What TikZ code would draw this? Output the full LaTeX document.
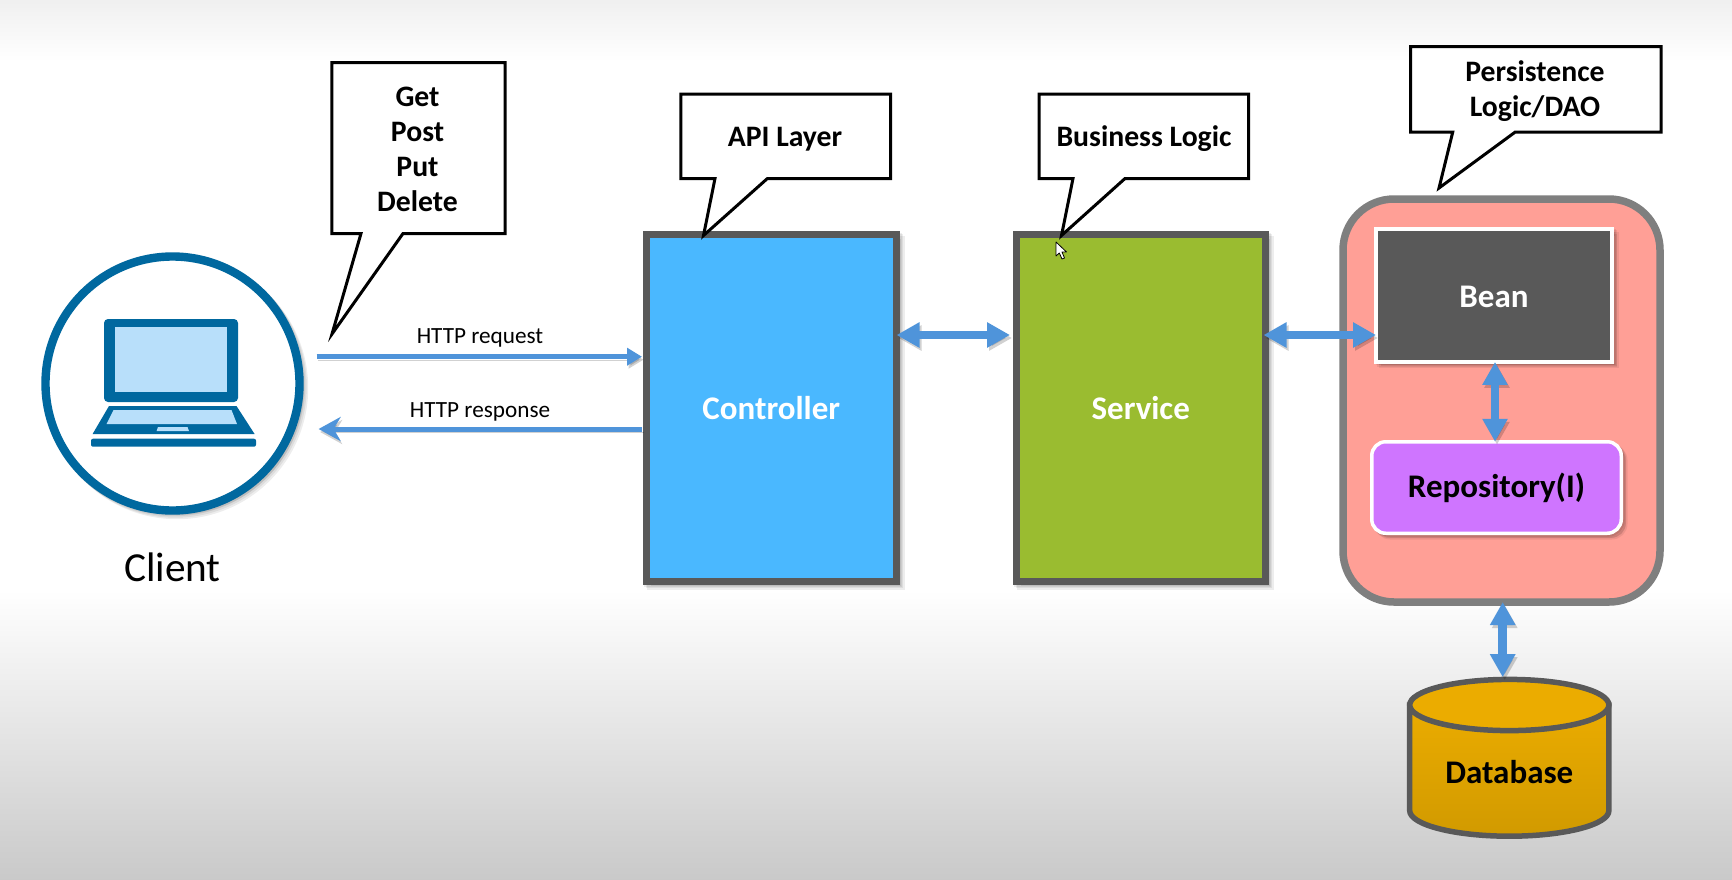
\documentclass[tikz,border=0pt]{standalone}
\usepackage{fontspec}
\setmainfont{Carlito}
\usetikzlibrary{arrows.meta,shadows}
\definecolor{arrowblue}{HTML}{4F94DA}
\definecolor{boxgrey}{HTML}{595959}
\definecolor{contgrey}{HTML}{7F7F7F}
\definecolor{ctrlblue}{HTML}{4AB8FF}
\definecolor{svcgreen}{HTML}{9ABC30}
\definecolor{pinkfill}{HTML}{FF9F96}
\definecolor{purplefill}{HTML}{CF75FF}
\definecolor{lapdark}{HTML}{00689F}
\definecolor{laplight}{HTML}{B8DFFA}
\tikzset{
  softshadow/.style={
    general shadow={draw=black,fill=black,opacity=.07,shadow xshift=1.5pt,shadow yshift=-1.5pt},
    general shadow={draw=black,fill=black,opacity=.07,shadow xshift=3pt,shadow yshift=-3pt},
    general shadow={draw=black,fill=black,opacity=.07,shadow xshift=4.5pt,shadow yshift=-4.5pt}},
  boxfont/.style={font=\fontsize{33}{40}\selectfont\bfseries},
  tierbox/.style={rectangle,draw=boxgrey,line width=7pt,outer sep=0pt,softshadow,text=white,boxfont},
  callout/.style={draw=black,line width=3pt,fill=white,line join=miter,miter limit=10},
  callouttext/.style={align=center,text=black,inner sep=0pt,outer sep=0pt,
    font=\fontsize{29.7}{35.2}\selectfont\bfseries},
  thinarrow/.style={draw=arrowblue,line width=5pt,
    preaction={draw=black,opacity=.18,transform canvas={shift={(1.5pt,-3pt)}}}},
  dblarrow/.style={draw=arrowblue,line width=8.5pt,
    {Triangle[length=23pt,width=24pt]}-{Triangle[length=23pt,width=24pt]},
    preaction={draw=black,opacity=.18,transform canvas={shift={(2pt,-3pt)}}}},
  httplabel/.style={text=black,inner sep=0pt,outer sep=0pt,font=\fontsize{23.2}{28}\selectfont},
}
\begin{document}
\begin{tikzpicture}[x=1pt,y=-1pt]
\useasboundingbox (0,0) rectangle (1732,879);
% background
\fill[white] (0,0) rectangle (1732,879);
\shade[top color=black!6,bottom color=white] (0,0) rectangle (1732,62);
\shade[top color=white,bottom color=black!21] (0,590) rectangle (1732,879);

% client
\node[circle,draw=lapdark,fill=white,line width=8.4pt,minimum size=254pt,outer sep=0pt,inner sep=0pt,softshadow] (client) at (172.5,383.5) {};
\fill[lapdark,rounded corners=4pt] (104,319) rectangle (238,402);
\fill[laplight] (114.5,327) rectangle (227,392);
\fill[lapdark] (109,406) -- (236.5,406) -- (254.6,434) -- (92.6,434) -- cycle;
\fill[laplight] (113.6,410) -- (231.5,410) -- (237,424) -- (106.5,424) -- cycle;
\fill[laplight] (158,427) -- (187.5,427) -- (189,431) -- (156.6,431) -- cycle;
\fill[lapdark,rounded corners=2pt] (91,438.7) rectangle (256,446.7);
\node[text=black,inner sep=0pt,font=\fontsize{41.3}{48}\selectfont] (clientlabel) at (172.5,567) {Client};

% tiers
\node[tierbox,fill=ctrlblue,minimum width=250.5pt,minimum height=347pt] (ctrl) at (771.25,408) {Controller};
\node[tierbox,fill=svcgreen,minimum width=249.5pt,minimum height=347pt] (svc) at (1140.75,408) {Service};

% persistence container
\node[rectangle,draw=contgrey,fill=pinkfill,line width=7.5pt,rounded corners=51pt,minimum width=317pt,minimum height=403pt,outer sep=0pt] (persist) at (1501.5,400.5) {};
\node[rectangle,draw=white,fill=boxgrey,line width=4pt,minimum width=236pt,minimum height=132.7pt,outer sep=0pt,softshadow,text=white,boxfont,text height=24pt,text depth=0pt] (bean) at (1494,295.6) {Bean};
\node[rectangle,draw=white,fill=purplefill,line width=3.5pt,rounded corners=14pt,minimum width=249.5pt,minimum height=91.5pt,outer sep=0pt,softshadow,text=black,boxfont] (repo) at (1496.5,487.5) {Repository(I)};

% database
\draw[boxgrey,line width=5.5pt,shade,top color={rgb,255:red,235;green,172;blue,0},bottom color={rgb,255:red,209;green,154;blue,0}]
  (1409.7,705) -- (1409.7,810.6) .. controls (1409.7,824.7) and (1454.3,836.2) .. (1509.3,836.2)
  .. controls (1564.3,836.2) and (1608.9,824.7) .. (1608.9,810.6) -- (1608.9,705) -- cycle;
\draw[boxgrey,line width=5.5pt,fill={rgb,255:red,235;green,172;blue,0}] (1509.3,705) ellipse [x radius=99.6pt,y radius=25.6pt];
\node[rectangle,minimum width=199pt,minimum height=189pt,inner sep=0pt,outer sep=0pt,text=black,boxfont] (db) at (1509.3,771.7) {Database};

% connectors
\coordinate (reqstart) at (316.5,356.7);
\coordinate (respend) at (318.6,429);
\draw[thinarrow,-{Triangle[length=15pt,width=17pt]},shorten >=4pt] (reqstart) -- ([yshift=51.3pt]ctrl.west);
\draw[thinarrow,-{Stealth[length=22pt,width=24pt,inset=7pt]},shorten <=4pt] ([yshift=-21pt]ctrl.west) -- (respend);
\node[httplabel] (reqlabel) at (480,337.5) {HTTP request};
\node[httplabel] (resplabel) at (480,411.5) {HTTP response};
\draw[dblarrow,shorten >=6pt] ([yshift=73pt]ctrl.east) -- ([yshift=73pt]svc.west);
\draw[dblarrow,shorten <=-2pt] ([yshift=73pt]svc.east) -- ([yshift=-39.4pt]bean.west);
\draw[dblarrow] ([xshift=1pt]bean.south) -- ([xshift=1pt]bean.south |- repo.north);
\draw[dblarrow] ([xshift=1.2pt]persist.south) -- ([xshift=1.2pt]persist.south |- db.north);

% callouts
\draw[callout] (331.9,62.5) -- (505.2,62.5) -- (505.2,233.5) -- (403,233.5) -- (332,334) -- (361,233.5) -- (331.9,233.5) -- cycle;
\node[callouttext] (gettext) at (417.5,149.5) {Get\\Post\\Put\\Delete};
\draw[callout] (680.9,94.2) -- (890.5,94.2) -- (890.5,178.5) -- (767.4,178.5) -- (703.5,235.5) -- (715,178.5) -- (680.9,178.5) -- cycle;
\node[callouttext] (apitext) at (785,139.5) {API Layer};
\draw[callout] (1039.1,94.2) -- (1248.5,94.2) -- (1248.5,178.5) -- (1125,178.5) -- (1061.5,235.5) -- (1073,178.5) -- (1039.1,178.5) -- cycle;
\node[callouttext] (bustext) at (1144,138.5) {Business Logic};
\draw[callout] (1410.5,46.5) -- (1661.2,46.5) -- (1661.2,132.2) -- (1515,132.2) -- (1439,188) -- (1452.7,132.2) -- (1410.5,132.2) -- cycle;
\node[callouttext,font=\fontsize{29.7}{34.3}\selectfont\bfseries] (perstext) at (1535,91) {Persistence\\Logic/DAO};

% mouse pointer
\draw[fill=white,draw=black,line width=.8pt,line join=round] (1056,242) -- (1056,256) -- (1059.3,253) -- (1062,259) -- (1064.5,258) -- (1062,252) -- (1066.5,252) -- cycle;
\end{tikzpicture}
\end{document}
